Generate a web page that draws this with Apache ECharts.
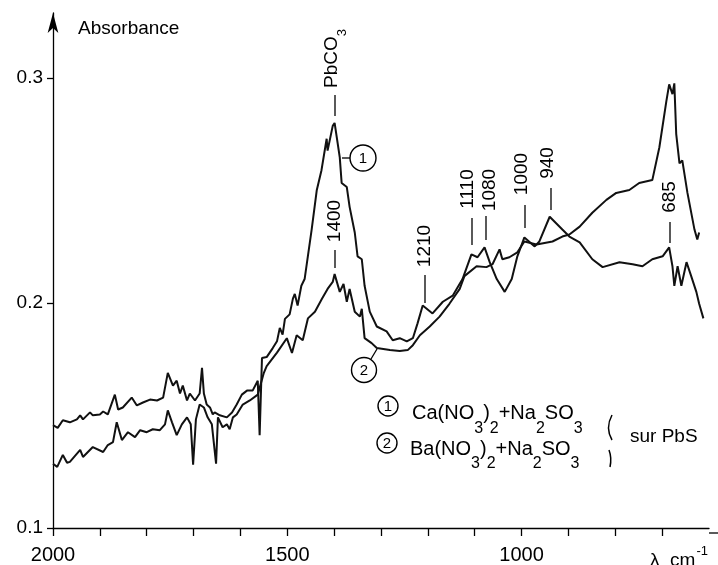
<!DOCTYPE html>
<html>
<head>
<meta charset="utf-8">
<script src="https://cdn.jsdelivr.net/npm/echarts/dist/echarts.min.js"></script>
<style>
html,body{margin:0;padding:0;background:#fff;}
#chart{width:718px;height:565px;}
</style>
</head>
<body>
<div id="chart"></div>
<script>
// ---- Data (wavenumber cm-1, absorbance) ----
// Curve 1 : Ca(NO3)2 + Na2SO3 on PbS
const wn1 = [2000,1990,1979,1964,1949,1942,1936,1921,1915,1900,1893,1883,1868,1861,1851,1832,1821,1808,1793,1778,1765,
  1755,1744,1736,1729,1723,1714,1708,1697,1687,1682,1678,1672,1665,1659,1655,1644,1629,1618,1608,1597,1586,1574,1563,
  1559,1554,1544,1531,1522,1516,1510,1505,1495,1488,1484,1478,1470,1463,1448,1437,1427,1416,1414,1403,1399,1388,1384,
  1373,1367,1356,1350,1341,1335,1324,1309,1288,1275,1260,1245,1232,1222,1211,1190,1168,1147,1126,1107,1094,1079,1068,
  1053,1036,1021,1009,994,972,962,940,913,898,876,849,827,791,763,742,721,699,685,678,674,667,659,648,638,627,621,612];
const abs1 = [0.1457,0.1445,0.1479,0.1470,0.1483,0.1501,0.1483,0.1514,0.1501,0.1505,0.1518,0.1505,0.1593,0.1527,0.1536,0.1580,0.1545,0.1558,0.1571,0.1567,0.1580,
  0.1690,0.1633,0.1655,0.1598,0.1633,0.1567,0.1598,0.1567,0.1598,0.1712,0.1598,0.1549,0.1536,0.1505,0.1514,0.1501,0.1492,0.1514,0.1549,0.1593,0.1611,0.1611,0.1655,
  0.1413,0.1756,0.1760,0.1800,0.1830,0.1890,0.1860,0.1930,0.1950,0.2020,0.2041,0.1989,0.2077,0.2107,0.2327,0.2503,0.2591,0.2731,0.2678,0.2788,0.2801,0.2648,0.2534,
  0.2516,0.2428,0.2314,0.2208,0.2195,0.2077,0.1962,0.1896,0.1874,0.1835,0.1844,0.1830,0.1844,0.1910,0.1989,0.1954,0.2006,0.2033,0.2107,0.2217,0.2204,0.2248,0.2182,
  0.2107,0.2050,0.2107,0.2208,0.2292,0.2252,0.2274,0.2384,0.2327,0.2296,0.2270,0.2195,0.2160,0.2182,0.2173,0.2164,0.2195,0.2208,0.2248,0.2164,0.2077,0.2164,0.2077,0.2182,0.2120,0.2050,0.1997,0.1932];

// Curve 2 : Ba(NO3)2 + Na2SO3 on PbS
const wn2 = [2000,1991,1979,1970,1964,1942,1936,1915,1893,1883,1872,1864,1853,1840,1825,1814,1800,1787,1772,1761,
  1755,1746,1736,1725,1714,1706,1701,1695,1687,1678,1670,1661,1652,1648,1638,1629,1623,1616,1608,1595,1580,1563,
  1550,1544,1522,1501,1490,1480,1467,1456,1441,1426,1414,1403,1399,1388,1380,1373,1367,1356,1345,1341,1335,1320,
  1309,1281,1260,1243,1232,1217,1196,1175,1154,1132,1122,1096,1075,1062,1047,1041,1026,1009,994,968,934,913,898,
  876,849,819,798,770,749,721,706,691,685,678,674,670,663,657,646,631,625,621];
const abs2 = [0.1286,0.1272,0.1325,0.1290,0.1294,0.1347,0.1316,0.1360,0.1338,0.1369,0.1382,0.1470,0.1391,0.1426,0.1404,0.1435,0.1426,0.1439,0.1435,0.1461,
  0.1523,0.1470,0.1413,0.1461,0.1492,0.1461,0.1281,0.1483,0.1549,0.1536,0.1492,0.1461,0.1286,0.1492,0.1448,0.1461,0.1439,0.1492,0.1505,0.1549,0.1567,0.1593,
  0.1690,0.1720,0.1780,0.1844,0.1778,0.1857,0.1835,0.1932,0.1962,0.2019,0.2063,0.2094,0.2129,0.2050,0.2085,0.2006,0.2063,0.1962,0.1940,0.1975,0.1844,0.1822,
  0.1800,0.1791,0.1787,0.1791,0.1813,0.1857,0.1896,0.1940,0.1997,0.2063,0.2120,0.2164,0.2160,0.2173,0.2239,0.2195,0.2204,0.2226,0.2274,0.2261,0.2274,0.2296,0.2305,
  0.2340,0.2402,0.2459,0.2490,0.2503,0.2534,0.2547,0.2692,0.2898,0.2973,0.2929,0.2977,0.2753,0.2621,0.2635,0.2490,0.2327,0.2283,0.2314];

const xTickLabels = ['2000', '1500', '1000'];
const xTickValues = [2000, 1900, 1800, 1700, 1600, 1500, 1400, 1300, 1200, 1100, 1000, 900, 800, 700];
const yTickLabels = ['0.1', '0.2', '0.3'];
const seriesNames = ['Ca(NO3)2+Na2SO3', 'Ba(NO3)2+Na2SO3'];
const peakTexts = ['1400', '1210', '1110', '1080', '1000', '940', '685'];

// ---- Chart ----
const FONT = '"Liberation Sans", Arial, Helvetica, sans-serif';
const chart = echarts.init(document.getElementById('chart'), null, {renderer: 'canvas'});

function vtext(txt, cx, cy) {
  return {type: 'text', x: cx, y: cy, rotation: Math.PI / 2, silent: true,
    style: {text: txt, font: '19px ' + FONT, fill: '#000', align: 'center', verticalAlign: 'middle'}};
}
function vline(x, y1, y2) {
  return {type: 'line', silent: true, shape: {x1: x, y1: y1, x2: x, y2: y2}, style: {stroke: '#000', lineWidth: 1.3}};
}
function circ(cx, cy, r, num) {
  return [
    {type: 'circle', silent: true, shape: {cx: cx, cy: cy, r: r}, style: {fill: '#fff', stroke: '#000', lineWidth: 1.4}},
    {type: 'text', silent: true, x: cx, y: cy + 0.5, style: {text: num, font: '15px ' + FONT, fill: '#000', align: 'center', verticalAlign: 'middle'}}
  ];
}

const peakPos = [
  [335, 221, 335, 250, 268],
  [425, 246, 425, 275, 303],
  [468, 189, 472, 218, 245],
  [490, 190, 486, 216, 240],
  [522, 174, 525, 205, 228],
  [548, 163, 551, 188, 210],
  [670, 197, 670, 222, 243]
];

const graphics = [];
peakTexts.forEach((t, i) => {
  const p = peakPos[i];
  graphics.push(vtext(t, p[0], p[1]));
  graphics.push(vline(p[2], p[3], p[4]));
});
// PbCO3 label (rotated, with subscript)
graphics.push({type: 'text', x: 322.5, y: 88, rotation: Math.PI / 2, silent: true,
  style: {text: '{m|PbCO}{s|3}', align: 'left', verticalAlign: 'top',
    rich: {m: {font: '19px ' + FONT, fill: '#000', verticalAlign: 'top'},
           s: {font: '13px ' + FONT, fill: '#000', verticalAlign: 'top', padding: [13, 0, 0, 0]}}}});
graphics.push(vline(335, 95, 116));
// Absorbance
graphics.push({type: 'text', x: 78, y: 28.5, silent: true,
  style: {text: 'Absorbance', font: '19px ' + FONT, fill: '#000', align: 'left', verticalAlign: 'middle'}});
// lambda cm-1
graphics.push({type: 'text', x: 650, y: 545, silent: true,
  style: {text: '{m|λ  cm}{p|-1}', align: 'left', verticalAlign: 'top',
    rich: {m: {font: '19px ' + FONT, fill: '#000', verticalAlign: 'top', padding: [6, 0, 0, 0]},
           p: {font: '13px ' + FONT, fill: '#000', verticalAlign: 'top', padding: [0, 0, 0, 1]}}}});
// curve markers
graphics.push(...circ(363, 158, 13, '1'));
graphics.push({type: 'line', silent: true, shape: {x1: 342, y1: 158, x2: 350, y2: 158}, style: {stroke: '#000', lineWidth: 1.3}});
graphics.push(...circ(364, 370, 12.5, '2'));
graphics.push({type: 'line', silent: true, shape: {x1: 377, y1: 349, x2: 371, y2: 359}, style: {stroke: '#000', lineWidth: 1.3}});
// legend
graphics.push(...circ(388, 406, 10, '1'));
graphics.push(...circ(387, 443, 10, '2'));
const richLegend = {m: {font: '20px ' + FONT, fill: '#000', verticalAlign: 'top'},
                    s: {font: '16px ' + FONT, fill: '#000', verticalAlign: 'top', padding: [17, 0, 0, 0]}};
graphics.push({type: 'text', x: 412, y: 403.5, silent: true,
  style: {text: '{m|Ca(NO}{s|3}{m|)}{s|2}{m|+Na}{s|2}{m|SO}{s|3}', align: 'left', verticalAlign: 'top', rich: richLegend}});
graphics.push({type: 'text', x: 410, y: 439, silent: true,
  style: {text: '{m|Ba(NO}{s|3}{m|)}{s|2}{m|+Na}{s|2}{m|SO}{s|3}', align: 'left', verticalAlign: 'top', rich: richLegend}});
// brace
graphics.push({type: 'bezierCurve', silent: true, shape: {x1: 612, y1: 415, cpx1: 605, cpy1: 428, x2: 612, y2: 440}, style: {fill: null, stroke: '#000', lineWidth: 1.5}});
graphics.push({type: 'bezierCurve', silent: true, shape: {x1: 609, y1: 450, cpx1: 612, cpy1: 458, x2: 610, y2: 467}, style: {fill: null, stroke: '#000', lineWidth: 1.5}});
graphics.push({type: 'text', x: 630, y: 437, silent: true,
  style: {text: 'sur PbS', font: '19px ' + FONT, fill: '#000', align: 'left', verticalAlign: 'middle'}});
// x-axis line extension to the right edge
graphics.push({type: 'line', silent: true, shape: {x1: 709, y1: 533, x2: 718, y2: 533}, style: {stroke: '#000', lineWidth: 1.3}});

const option = {
  animation: false,
  backgroundColor: '#fff',
  grid: {left: 53, right: 9, top: 13, bottom: 32, containLabel: false},
  xAxis: {
    type: 'value', inverse: true, min: 600, max: 2000, interval: 100,
    axisLine: {show: true, lineStyle: {color: '#000', width: 1.3}},
    axisTick: {show: true, length: 8, inside: false, customValues: xTickValues, lineStyle: {color: '#000', width: 1.3}},
    axisLabel: {show: true, margin: 17, color: '#000', fontSize: 20, fontFamily: FONT,
      formatter: v => { const s = String(Math.round(v)); return xTickLabels.includes(s) ? s : ''; }},
    splitLine: {show: false}
  },
  yAxis: {
    type: 'value', min: 0.1, max: 0.329, interval: 0.1,
    axisLine: {show: true, symbol: ['none', 'arrow'], symbolSize: [8, 20], lineStyle: {color: '#000', width: 1.3}},
    axisTick: {show: true, length: 6, lineStyle: {color: '#000', width: 1.3}},
    axisLabel: {show: true, margin: 10, color: '#000', fontSize: 19, fontFamily: FONT, showMaxLabel: false,
      formatter: v => { const s = v.toFixed(1); return (Math.abs(v - parseFloat(s)) < 1e-6 && yTickLabels.includes(s)) ? s : ''; }},
    splitLine: {show: false}
  },
  series: [
    {name: seriesNames[0], type: 'line', showSymbol: false, symbol: 'none', silent: true,
      lineStyle: {color: '#111', width: 2}, data: wn1.map((w, i) => [w, abs1[i]])},
    {name: seriesNames[1], type: 'line', showSymbol: false, symbol: 'none', silent: true,
      lineStyle: {color: '#111', width: 2}, data: wn2.map((w, i) => [w, abs2[i]])}
  ],
  graphic: graphics
};
chart.setOption(option);
</script>
</body>
</html>
